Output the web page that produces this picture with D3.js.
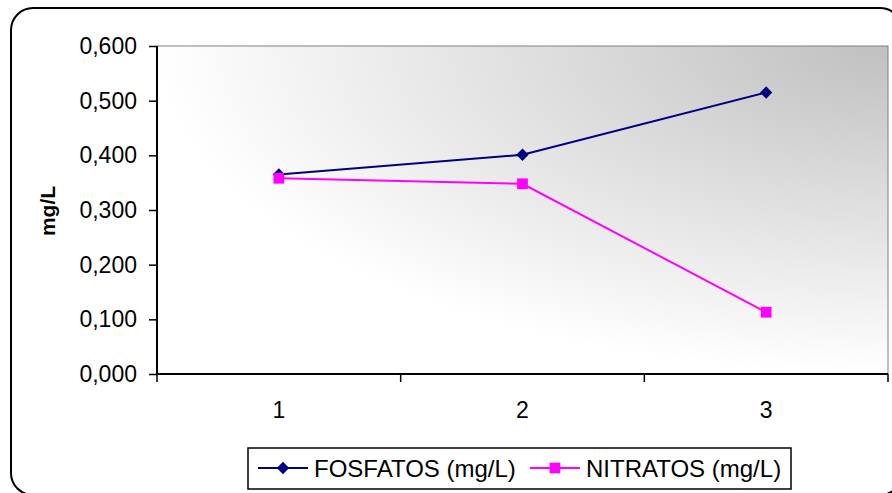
<!DOCTYPE html>
<html>
<head>
<meta charset="utf-8">
<script src="https://cdn.jsdelivr.net/npm/d3@7"></script>
<style>
  body { margin: 0; background: #fff; }
  svg text { font-family: "Liberation Sans", Arial, sans-serif; }
</style>
</head>
<body>
<svg id="chart" width="892" height="493"></svg>
<script>
const categories = ['1', '2', '3'];
const fosfatos = [0.365, 0.401, 0.515];
const nitratos = [0.358, 0.348, 0.113];
const yTicks = [0, 0.1, 0.2, 0.3, 0.4, 0.5, 0.6];
const seriesNames = ['FOSFATOS (mg/L)', 'NITRATOS (mg/L)'];

const svg = d3.select('#chart');
const plot = { left: 157, top: 46, right: 888, bottom: 374 };

// outer chart frame
svg.append('rect')
  .attr('x', 11).attr('y', 8)
  .attr('width', 891).attr('height', 487)
  .attr('rx', 22).attr('ry', 22)
  .attr('fill', '#fff')
  .attr('stroke', '#000')
  .attr('stroke-width', 2);

const defs = svg.append('defs');
const grad = defs.append('radialGradient')
  .attr('id', 'bg')
  .attr('cx', 1).attr('cy', 0).attr('r', 1)
  .attr('fx', 1).attr('fy', 0);
grad.append('stop').attr('offset', '0%').attr('stop-color', '#c0c0c0');
grad.append('stop').attr('offset', '100%').attr('stop-color', '#ffffff');

const xScale = d3.scaleBand()
  .domain(categories)
  .range([plot.left, plot.right]);

const yScale = d3.scaleLinear()
  .domain([0, 0.6])
  .range([plot.bottom, plot.top]);

svg.append('rect')
  .attr('x', plot.left).attr('y', plot.top)
  .attr('width', plot.right - plot.left)
  .attr('height', plot.bottom - plot.top)
  .attr('fill', 'url(#bg)')
  .attr('stroke', '#808080')
  .attr('stroke-width', 1);

// y axis
const yAxis = svg.append('g')
  .attr('transform', `translate(${plot.left},0)`)
  .call(d3.axisLeft(yScale)
    .tickValues(yTicks)
    .tickSize(8)
    .tickPadding(12)
    .tickFormat(d => d3.format('.3f')(d).replace('.', ',')));
yAxis.select('.domain').attr('stroke', '#000').attr('stroke-width', 2).attr('d', `M0,${plot.top}V${plot.bottom}`);
yAxis.selectAll('.tick line').attr('stroke', '#000').attr('stroke-width', 1.5);
yAxis.selectAll('text').attr('font-size', 23).attr('fill', '#000');

// x axis, ticks at category boundaries
const xAxis = svg.append('g')
  .attr('transform', `translate(0,${plot.bottom})`);
xAxis.append('line')
  .attr('x1', plot.left).attr('x2', plot.right)
  .attr('stroke', '#000').attr('stroke-width', 2);
const bounds = categories.map(c => xScale(c)).concat([xScale.range()[1]]);
xAxis.selectAll('.bt').data(bounds).join('line')
  .attr('class', 'bt')
  .attr('x1', d => d).attr('x2', d => d)
  .attr('y1', 0).attr('y2', 8)
  .attr('stroke', '#000').attr('stroke-width', 1.5);
xAxis.selectAll('.lbl').data(categories).join('text')
  .attr('class', 'lbl')
  .attr('x', d => xScale(d) + xScale.bandwidth() / 2)
  .attr('y', 44)
  .attr('text-anchor', 'middle')
  .attr('font-size', 23)
  .text(d => d);

svg.append('text')
  .attr('transform', 'translate(55,211) rotate(-90)')
  .attr('text-anchor', 'middle')
  .attr('font-size', 21)
  .attr('font-weight', 'bold')
  .text('mg/L');

const cx = c => xScale(c) + xScale.bandwidth() / 2;
const line = d3.line().x(d => cx(d[0])).y(d => yScale(d[1]));

const diamond = d3.symbol().type(d3.symbolSquare).size(76);
const square = d3.symbol().type(d3.symbolSquare).size(115);

function drawSeries(values, color, sym, rot) {
  const pts = categories.map((c, i) => [c, values[i]]);
  svg.append('path')
    .datum(pts)
    .attr('d', line)
    .attr('fill', 'none')
    .attr('stroke', color)
    .attr('stroke-width', 2);
  svg.selectAll(null).data(pts).join('path')
    .attr('d', sym)
    .attr('transform', d => `translate(${cx(d[0])},${yScale(d[1])}) rotate(${rot})`)
    .attr('fill', color);
}
drawSeries(fosfatos, '#000080', diamond, 45);
drawSeries(nitratos, '#ff00ff', square, 0);

// legend
const legend = svg.append('g');
legend.append('rect')
  .attr('x', 248).attr('y', 448)
  .attr('width', 543).attr('height', 41)
  .attr('fill', '#fff')
  .attr('stroke', '#000').attr('stroke-width', 1.5);
const entries = [
  { name: seriesNames[0], color: '#000080', sym: diamond, rot: 45, x: 258 },
  { name: seriesNames[1], color: '#ff00ff', sym: square, rot: 0, x: 530 }
];
entries.forEach(e => {
  legend.append('line')
    .attr('x1', e.x).attr('x2', e.x + 50)
    .attr('y1', 468).attr('y2', 468)
    .attr('stroke', e.color).attr('stroke-width', 2);
  legend.append('path')
    .attr('d', e.sym)
    .attr('transform', `translate(${e.x + 25},468) rotate(${e.rot})`)
    .attr('fill', e.color);
  legend.append('text')
    .attr('x', e.x + 56).attr('y', 477)
    .attr('font-size', 24)
    .text(e.name);
});
</script>
</body>
</html>
